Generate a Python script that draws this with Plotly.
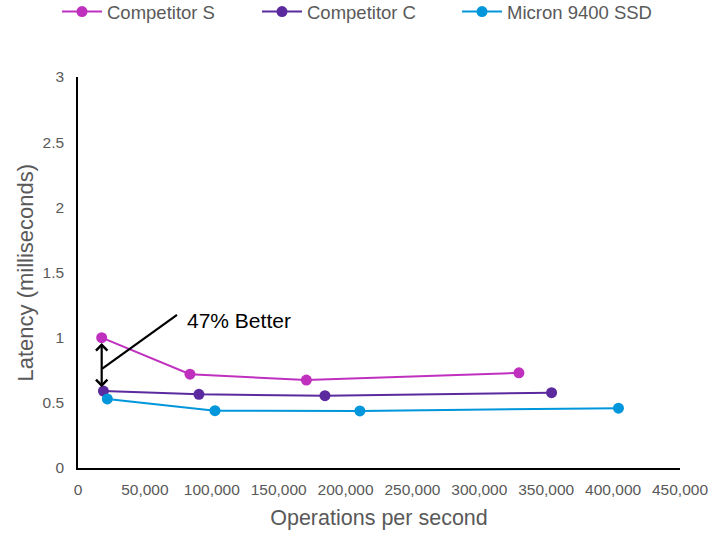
import plotly.graph_objects as go

series_names = ["Competitor S", "Competitor C", "Micron 9400 SSD"]
ops_s = [17700, 83700, 170700, 329600]
lat_s = [1.00, 0.72, 0.675, 0.73]
ops_c = [19000, 90400, 184600, 354000]
lat_c = [0.59, 0.565, 0.555, 0.578]
ops_m = [21900, 102400, 210700, 404000]
lat_m = [0.53, 0.44, 0.438, 0.459]
colors = ["#BF30BF", "#5B2A9E", "#0096DC"]

fig = go.Figure()
for name, xs, ys, col in zip(series_names, [ops_s, ops_c, ops_m], [lat_s, lat_c, lat_m], colors):
    fig.add_trace(go.Scatter(x=xs, y=ys, name=name, mode="lines+markers",
                             line=dict(color=col, width=2),
                             marker=dict(color=col, size=11)))

font = "Liberation Sans, Arial, sans-serif"
grey = "#595959"

# double-headed arrow
fig.add_annotation(x=17700, y=0.62, ax=17700, ay=0.97, xref="x", yref="y", axref="x", ayref="y",
                   showarrow=True, arrowhead=4, startarrowhead=4, arrowside="end+start",
                   arrowwidth=2.2, arrowsize=1, startarrowsize=1, arrowcolor="black", text="")
fig.add_shape(type="line", x0=17900, y0=0.76, x1=74000, y1=1.175, xref="x", yref="y",
              line=dict(color="black", width=2.2))
fig.add_annotation(x=80000, y=1.13, xref="x", yref="y", text="47% Better", showarrow=False,
                   xanchor="left", yanchor="middle", font=dict(family=font, size=21, color="black"))

# y axis title
fig.add_annotation(x=(25 - 78) / 602, y=0.5, xref="paper", yref="paper", text="Latency (milliseconds)",
                   textangle=-90, showarrow=False, xanchor="center", yanchor="middle",
                   font=dict(family=font, size=22, color=grey))

fig.update_layout(
    width=725, height=533,
    margin=dict(l=78, r=45, t=77, b=65, autoexpand=False),
    paper_bgcolor="white", plot_bgcolor="white",
    font=dict(family=font, color=grey, size=15.5),
    showlegend=True,
    legend=dict(orientation="h", x=57 / 725, y=1 + (77 - 12) / 391, xref="container", yref="paper",
                xanchor="left", yanchor="middle", entrywidth=145,
                font=dict(family=font, size=18.5, color=grey), itemwidth=40,
                traceorder="normal"),
    xaxis=dict(range=[0, 450000], dtick=50000, tickformat=",", showgrid=False, zeroline=False,
               showline=True, linecolor="black", linewidth=1.5, ticks="", automargin=False,
               tickfont=dict(size=15.5, color=grey), ticklabelstandoff=7,
               title=dict(text="Operations per second", font=dict(size=21.5, color=grey), standoff=13)),
    yaxis=dict(range=[0, 3], dtick=0.5, showgrid=False, zeroline=False, automargin=False,
               showline=True, linecolor="black", linewidth=1.5, ticks="",
               tickfont=dict(size=15.5, color=grey), ticklabelstandoff=9),
)

fig.write_html("out.html", config={"displayModeBar": False},
               post_script="document.body.style.margin='0';")
